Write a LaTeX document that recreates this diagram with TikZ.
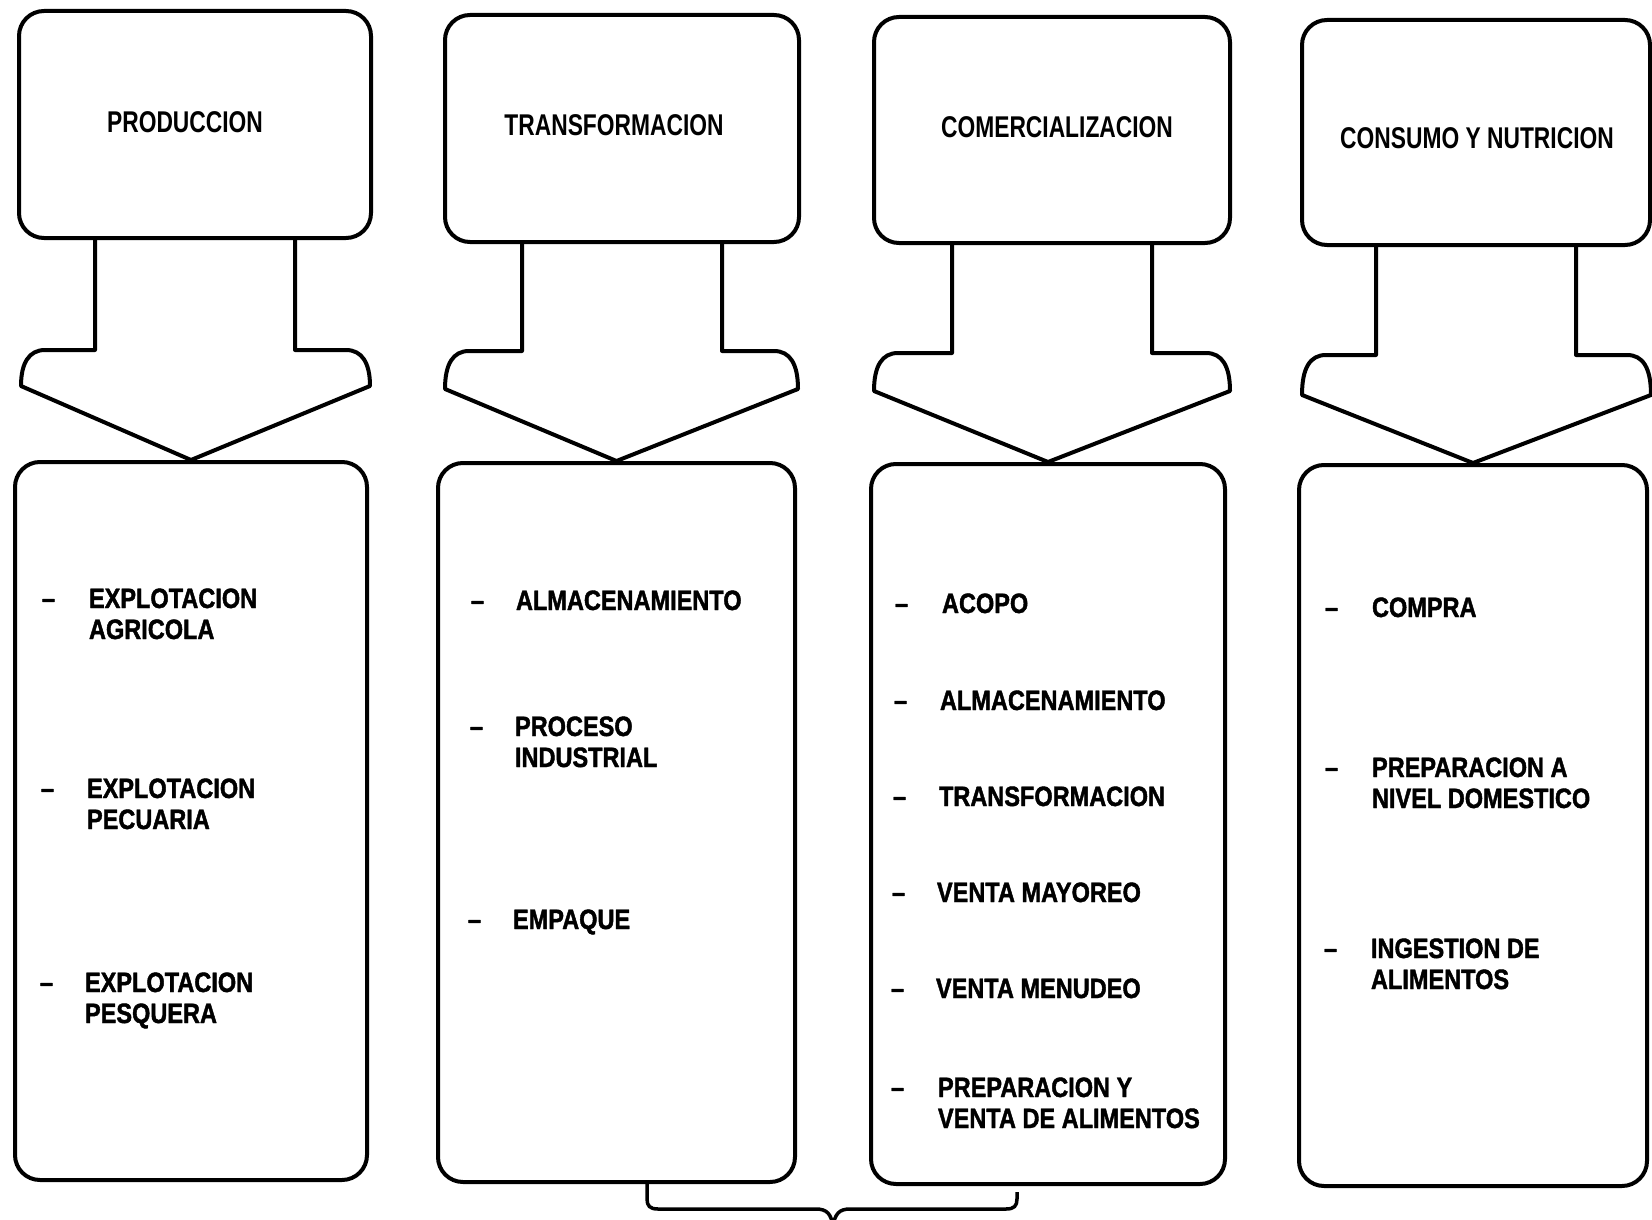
\documentclass[tikz,border=0pt]{standalone}
\usepackage{fontspec}
\setmainfont{Liberation Sans}
\newfontfamily\titlefont[FakeStretch=0.76]{Liberation Sans Bold}
\newfontfamily\itemfont[FakeStretch=0.84,FakeBold=1.5]{Liberation Sans Bold}
\usetikzlibrary{calc}
\newcommand\twol[2]{\vtop{\hbox{#1}\hbox{#2}}}
% #1 top node, #2 bottom node, #3 shoulder y, #4 wing y, #5 left wing x, #6 right wing x
\newcommand\blockarr[6]{%
  \coordinate (sh) at (0,#3);
  \coordinate (sl) at ($(#1.south)+(-100,0)$);
  \coordinate (sr) at ($(#1.south)+(100,0)$);
  \draw[arr] (sl) -- (sl |- sh) -- (#5+24,#3)
    .. controls (#5+8,#3) and (#5,#3+13) .. (#5,#4) -- (#2.north) -- (#6,#4)
    .. controls (#6,#3+13) and (#6-8,#3) .. (#6-24,#3) -- (sr |- sh) -- (sr);}
\begin{document}
\begin{tikzpicture}[x=1pt,y=-1pt,line width=4pt,line join=round,
  box/.style={draw,rounded corners=25pt,inner sep=0pt},
  arr/.style={draw,line width=4pt},
  ttl/.style={font=\titlefont\fontsize{30}{34}\selectfont,anchor=base,inner sep=0pt},
  itm/.style={font=\itemfont\fontsize{28}{31}\selectfont,anchor=base west,inner sep=0pt},
  dsh/.style={font=\itemfont\fontsize{28}{31}\selectfont,anchor=base west,inner sep=0pt}]
\useasboundingbox (0,0) rectangle (1652,1220);

% top boxes
\node[box,minimum width=352pt,minimum height=227pt] (t1) at (195,124.5) {};
\node[box,minimum width=354pt,minimum height=227pt] (t2) at (622,128.5) {};
\node[box,minimum width=356pt,minimum height=226pt] (t3) at (1052,130) {};
\node[box,minimum width=348pt,minimum height=225pt] (t4) at (1476,132.5) {};

\node[ttl] (h1) at (185,133) {PRODUCCION};
\node[ttl] (h2) at (614,136) {TRANSFORMACION};
\node[ttl] (h3) at (1057,138) {COMERCIALIZACION};
\node[ttl] (h4) at (1477,149) {CONSUMO Y NUTRICION};

% bottom boxes
\node[box,minimum width=352pt,minimum height=718pt] (b1) at (191,821) {};
\node[box,minimum width=357pt,minimum height=719pt] (b2) at (616.5,822.5) {};
\node[box,minimum width=354pt,minimum height=720pt] (b3) at (1048,824) {};
\node[box,minimum width=348pt,minimum height=721pt] (b4) at (1473,825.5) {};

% block arrows
\blockarr{t1}{b1}{350}{386}{21}{370}
\blockarr{t2}{b2}{351}{389}{445}{798}
\blockarr{t3}{b3}{353}{391}{874}{1230}
\blockarr{t4}{b4}{355}{395}{1302}{1651}

% column 1 items
\node[dsh] (d11) at (40,608) {–};
\node[itm] (i11) at (87,608) {\twol{EXPLOTACION}{AGRICOLA}};
\node[dsh] (d12) at (39,798) {–};
\node[itm] (i12) at (85,798) {\twol{EXPLOTACION}{PECUARIA}};
\node[dsh] (d13) at (38,992) {–};
\node[itm] (i13) at (83,992) {\twol{EXPLOTACION}{PESQUERA}};

% column 2 items
\node[dsh] (d21) at (469,610) {–};
\node[itm] (i21) at (514,610) {ALMACENAMIENTO};
\node[dsh] (d22) at (468,736) {–};
\node[itm] (i22) at (513,736) {\twol{PROCESO}{INDUSTRIAL}};
\node[dsh] (d23) at (466,929) {–};
\node[itm] (i23) at (511,929) {EMPAQUE};

% column 3 items
\node[dsh] (d31) at (893,613) {–};
\node[itm] (i31) at (940,613) {ACOPO};
\node[dsh] (d32) at (892,710) {–};
\node[itm] (i32) at (938,710) {ALMACENAMIENTO};
\node[dsh] (d33) at (891,806) {–};
\node[itm] (i33) at (937,806) {TRANSFORMACION};
\node[dsh] (d34) at (890,902) {–};
\node[itm] (i34) at (935,902) {VENTA MAYOREO};
\node[dsh] (d35) at (889,998) {–};
\node[itm] (i35) at (934,998) {VENTA MENUDEO};
\node[dsh] (d36) at (889,1097) {–};
\node[itm] (i36) at (936,1097) {\twol{PREPARACION Y}{VENTA DE ALIMENTOS}};

% column 4 items
\node[dsh] (d41) at (1323,617) {–};
\node[itm] (i41) at (1370,617) {COMPRA};
\node[dsh] (d42) at (1323,777) {–};
\node[itm] (i42) at (1370,777) {\twol{PREPARACION A}{NIVEL DOMESTICO}};
\node[dsh] (d43) at (1322,958) {–};
\node[itm] (i43) at (1369,958) {\twol{INGESTION DE}{ALIMENTOS}};

% brace under columns 2-3
\coordinate (brL) at (647,1184);
\coordinate (brR) at (1017,1192);
\coordinate (brT) at (833,1226);
\draw[line width=3.5pt] (brL) -- (647,1199) .. controls (647,1206) and (650,1209) .. (658,1209)
  -- (816,1209) .. controls (827,1209) and (831,1214) .. (brT)
  .. controls (835,1214) and (839,1209) .. (850,1209)
  -- (1006,1209) .. controls (1014,1209) and (1017,1206) .. (1017,1199) -- (brR);
\end{tikzpicture}
\end{document}
